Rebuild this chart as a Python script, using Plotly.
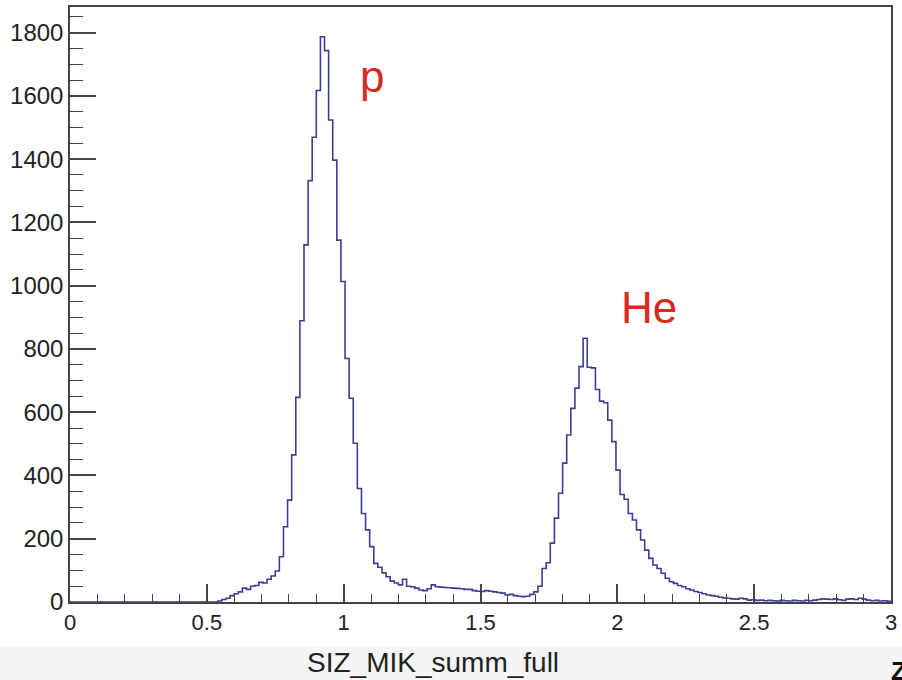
import numpy as np
import plotly.graph_objects as go

# Histogram definition (ROOT style): 200 bins over [0, 3]
x_lo, x_hi, nbins = 0.0, 3.0, 200

counts = [
    0, 0, 0, 0, 0, 0, 0, 0, 0, 0,
    0, 0, 0, 0, 0, 0, 0, 0, 0, 0,
    0, 0, 0, 0, 0, 0, 0, 0, 0, 0,
    0, 0, 0, 0, 0, 0, 3, 8, 12, 20,
    26, 32, 44, 40, 50, 52, 62, 60, 72, 82,
    98, 143, 238, 322, 465, 647, 889, 1129, 1332, 1469,
    1617, 1787, 1743, 1524, 1397, 1144, 1013, 770, 644, 502,
    359, 280, 228, 175, 122, 110, 92, 80, 66, 60,
    54, 72, 50, 48, 44, 38, 36, 42, 54, 48,
    47, 46, 45, 44, 43, 42, 40, 40, 36, 34,
    33, 36, 34, 32, 30, 28, 22, 24, 20, 18,
    17, 18, 24, 32, 50, 106, 124, 186, 265, 344,
    439, 528, 612, 676, 744, 834, 742, 740, 672, 635,
    630, 575, 507, 417, 340, 325, 280, 259, 228, 196,
    164, 138, 117, 106, 91, 75, 64, 59, 52, 48,
    42, 38, 33, 30, 26, 22, 20, 18, 15, 13,
    12, 10, 9, 12, 10, 6, 7, 5, 6, 4,
    5, 4, 3, 5, 4, 3, 5, 4, 3, 5,
    4, 6, 8, 10, 9, 8, 10, 7, 5, 9,
    10, 8, 12, 9, 6, 4, 5, 3, 4, 2,
]

axis_title = "SIZ_MIK_summ_full"
labels = ["p", "He"]
label_x = [1.105, 2.115]
label_y = [1660, 932]

edges = np.linspace(x_lo, x_hi, nbins + 1)
y_steps = counts + [counts[-1]]

L, R, T, B = 70, 5, 7, 78
W, H = 902, 680
pw, ph = W - L - R, H - T - B

fig = go.Figure()
fig.add_trace(go.Scatter(
    x=edges, y=y_steps, mode="lines",
    line=dict(shape="hv", color="#3d3d99", width=1.6),
    showlegend=False, hoverinfo="skip",
))

for t, xx, yy in zip(labels, label_x, label_y):
    fig.add_annotation(x=xx, y=yy, text=t, showarrow=False,
                       xanchor="center", yanchor="middle",
                       font=dict(family="Liberation Sans, Arial, sans-serif",
                                 size=44, color="#d62a20"))

# light grey strip at bottom of the picture
fig.add_shape(type="rect", xref="paper", yref="paper",
              x0=-0.1, x1=1.1, y0=-(647 - (H - B)) / ph, y1=-0.2,
              fillcolor="#f5f5f5", line=dict(width=0), layer="below")
# axis title (positioned as in the cropped original)
fig.add_annotation(xref="paper", yref="paper", x=(436 - L) / pw, y=-(662 - (H - B)) / ph,
                   text=axis_title, showarrow=False, xanchor="center", yanchor="middle",
                   font=dict(family="Liberation Sans, Arial, sans-serif", size=28, color="#222"))
# cropped glyph at bottom-right corner
fig.add_annotation(xref="paper", yref="paper", x=(895 - L) / pw, y=-(671 - (H - B)) / ph,
                   text="<b>Z</b>", showarrow=False, xanchor="left", yanchor="middle",
                   font=dict(family="Liberation Sans, Arial", size=26, color="#111"))

axis_col = "#444444"
fig.update_layout(
    width=W, height=H,
    margin=dict(l=L, r=R, t=T, b=B),
    paper_bgcolor="white", plot_bgcolor="white",
    font=dict(family="Liberation Sans, Arial, sans-serif", color="#222"),
    xaxis=dict(
        range=[x_lo, x_hi], showgrid=False, zeroline=False,
        showline=True, linecolor=axis_col, linewidth=1.5, mirror=True,
        ticks="inside", ticklen=18, tickwidth=1.5, tickcolor=axis_col,
        dtick=0.5, tick0=0, ticklabeloverflow="allow",
        minor=dict(ticks="inside", ticklen=8, dtick=0.1, tickwidth=1.3, tickcolor=axis_col),
        tickfont=dict(size=22, color="#222"),
    ),
    yaxis=dict(
        range=[0, 1881], showgrid=False, zeroline=False,
        showline=True, linecolor=axis_col, linewidth=1.5, mirror=True,
        ticks="inside", ticklen=26, tickwidth=1.5, tickcolor=axis_col,
        dtick=200, tick0=0,
        minor=dict(ticks="inside", ticklen=13, dtick=50, tickwidth=1.3, tickcolor=axis_col),
        tickfont=dict(size=24, color="#222"),
    ),
)

fig.write_html("out.html")
